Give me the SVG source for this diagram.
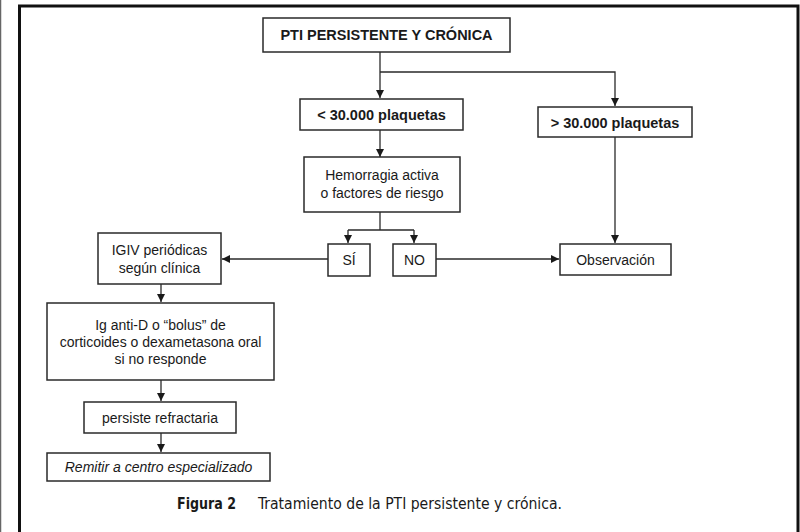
<svg xmlns="http://www.w3.org/2000/svg" width="800" height="532" viewBox="0 0 800 532">
<defs>
<marker id="ah" viewBox="0 0 10 10" refX="10" refY="5" markerWidth="8" markerHeight="8" markerUnits="userSpaceOnUse" orient="auto">
<path d="M0,0 L10,5 L0,10 z" fill="#1a1a1a"/>
</marker>
<style>
.box{fill:#fff;stroke:#2a2a2a;stroke-width:1.5}
.t{font-family:"Liberation Sans",Arial,sans-serif;font-size:14px;fill:#1a1a1a;text-anchor:middle}
.b{font-weight:bold;font-size:14.5px}
.i{font-style:italic}
.ln{fill:none;stroke:#2a2a2a;stroke-width:1.3}
.arr{marker-end:url(#ah)}
.cap{font-family:"DejaVu Sans Condensed","DejaVu Sans",sans-serif;font-size:15px;fill:#1a1a1a}
</style>
</defs>
<rect x="0" y="0" width="800" height="532" fill="#fff"/>
<line x1="0.5" y1="0" x2="0.5" y2="532" stroke="#666" stroke-width="1.5"/>
<path d="M19.5,532 V6 H798 V532" fill="none" stroke="#111" stroke-width="3"/>

<g id="connectors">
<path class="ln arr" d="M380,52 V98"/>
<path class="ln arr" d="M380,72 H615 V106"/>
<path class="ln arr" d="M380,130 V157"/>
<path class="ln" d="M380,212 V230"/>
<path class="ln arr" d="M348,230 H414 M348,230 V243"/>
<path class="ln arr" d="M414,230 V243"/>
<path class="ln arr" d="M615,137 V243"/>
<path class="ln arr" d="M436,259 H559"/>
<path class="ln arr" d="M328,259 H222"/>
<path class="ln arr" d="M161,284 V302"/>
<path class="ln arr" d="M161,380 V401"/>
<path class="ln arr" d="M161,433 V452"/>
</g>

<g id="n-pti"><rect class="box" x="263" y="18" width="247" height="34"/><text class="t b" x="386.5" y="40">PTI PERSISTENTE Y CRÓNICA</text></g>
<g id="n-menos"><rect class="box" x="300" y="99" width="163" height="31"/><text class="t b" x="381.5" y="120">&lt; 30.000 plaquetas</text></g>
<g id="n-mas"><rect class="box" x="538" y="107" width="154" height="30"/><text class="t b" x="615" y="127.5">&gt; 30.000 plaquetas</text></g>
<g id="n-hemo"><rect class="box" x="304" y="157" width="156" height="55"/><text class="t" x="382" y="180">Hemorragia activa</text><text class="t" x="382" y="198">o factores de riesgo</text></g>
<g id="n-si"><rect class="box" x="328" y="244" width="42" height="32"/><text class="t" x="349" y="265">SÍ</text></g>
<g id="n-no"><rect class="box" x="393" y="244" width="43" height="32"/><text class="t" x="414.5" y="265">NO</text></g>
<g id="n-obs"><rect class="box" x="560" y="244" width="111" height="31"/><text class="t" x="615.5" y="264.5">Observación</text></g>
<g id="n-igiv"><rect class="box" x="98" y="233" width="123" height="51"/><text class="t" x="159.5" y="255">IGIV periódicas</text><text class="t" x="159.5" y="273">según clínica</text></g>
<g id="n-antid"><rect class="box" x="47" y="303" width="227" height="77"/><text class="t" x="160.5" y="330">Ig anti-D o “bolus” de</text><text class="t" x="160.5" y="347">corticoides o dexametasona oral</text><text class="t" x="160.5" y="364">si no responde</text></g>
<g id="n-pers"><rect class="box" x="84" y="402" width="152" height="31"/><text class="t" x="160" y="422.5">persiste refractaria</text></g>
<g id="n-remitir"><rect class="box" x="47" y="453" width="223" height="28"/><text class="t i" x="158.5" y="472">Remitir a centro especializado</text></g>

<text class="cap" x="177" y="509" font-weight="bold" textLength="59" lengthAdjust="spacingAndGlyphs">Figura 2</text>
<text class="cap" x="258" y="509" textLength="304" lengthAdjust="spacingAndGlyphs">Tratamiento de la PTI persistente y crónica.</text>
</svg>
